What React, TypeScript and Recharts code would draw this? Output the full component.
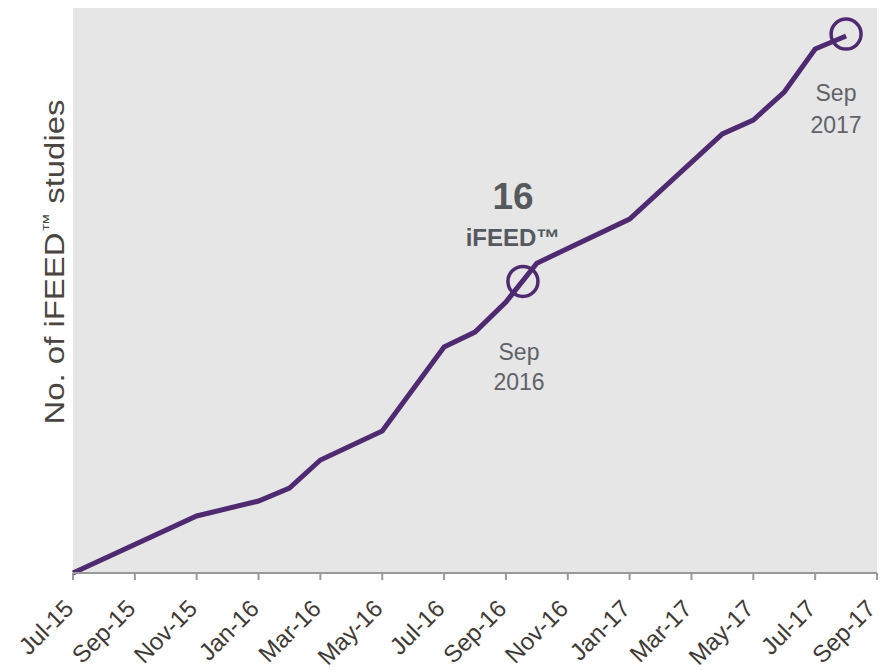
import { LineChart, Line, XAxis, YAxis, CartesianGrid, ReferenceDot } from 'recharts';

// months since Jul-15
const monthIdx = [0, 4, 6, 7, 8, 10, 12, 13, 14, 15, 18, 21, 22, 23, 24, 25];
const studies = [0, 3.13, 3.95, 4.66, 6.2, 7.79, 12.4, 13.22, 14.87, 17.0, 19.42, 24.09, 24.85, 26.39, 28.75, 29.46];

const tickIdx = [0, 2, 4, 6, 8, 10, 12, 14, 16, 18, 20, 22, 24, 26];
const tickLabels = [
  'Jul-15', 'Sep-15', 'Nov-15', 'Jan-16', 'Mar-16', 'May-16', 'Jul-16',
  'Sep-16', 'Nov-16', 'Jan-17', 'Mar-17', 'May-17', 'Jul-17', 'Sep-17',
];

const highlights = [
  { x: 14.55, y: 16 },
  { x: 25.0, y: 29.57 },
];

const data = monthIdx.map((m, i) => ({ m, v: studies[i] }));

const PURPLE = '#4f2a70';
const FONT = '"Liberation Sans", Arial, sans-serif';

const AxisTick = (props: any) => {
  const { x, y, payload } = props;
  const label = tickLabels[tickIdx.indexOf(payload.value)] ?? '';
  const shift = payload.value === 26 ? 0 : 2;
  return (
    <g transform={`translate(${x + shift},${y + 28}) rotate(-45)`}>
      <text x={0} y={0} textAnchor="end" fill="#3f3a36" fontSize={24} fontFamily={FONT}>
        {label}
      </text>
    </g>
  );
};

export default function App() {
  return (
    <div style={{ position: 'absolute', left: 0, top: 0, background: '#fff' }}>
      <LineChart width={881} height={670} data={data} margin={{ top: 8, right: 4, left: 73, bottom: 0 }}>
        <CartesianGrid horizontal={false} vertical={false} fill="#e6e6e6" stroke="none" />
        <XAxis
          dataKey="m"
          type="number"
          domain={[0, 26]}
          ticks={tickIdx}
          interval={0}
          height={97}
          tick={<AxisTick />}
          tickSize={7}
          axisLine={{ stroke: '#9a9a9a', strokeWidth: 2 }}
          tickLine={{ stroke: '#9a9a9a', strokeWidth: 2 }}
        />
        <YAxis hide domain={[0, 31]} type="number" />
        <Line
          type="linear"
          dataKey="v"
          stroke={PURPLE}
          strokeWidth={5}
          dot={false}
          isAnimationActive={false}
        />
        {highlights.map((h, i) => (
          <ReferenceDot key={i} x={h.x} y={h.y} r={15} fill="none" stroke={PURPLE} strokeWidth={3.5} ifOverflow="visible" />
        ))}
      </LineChart>
      <svg width={881} height={670} style={{ position: 'absolute', left: 0, top: 0, pointerEvents: 'none' }}>
        <text
          transform="translate(64,262) rotate(-90)"
          textAnchor="middle"
          fill="#4a4540"
          fontSize={27}
          fontFamily={FONT}
          textLength={325}
          lengthAdjust="spacingAndGlyphs"
        >
          No. of iFEED<tspan fontSize={16} dy={-10}>™</tspan><tspan dy={10}> studies</tspan>
        </text>
        <text x={513} y={209} textAnchor="middle" fill="#55595d" fontSize={37} fontWeight="bold" fontFamily={FONT}>16</text>
        <text x={513} y={246} textAnchor="middle" fill="#55595d" fontSize={24} fontWeight="bold" fontFamily={FONT}>iFEED™</text>
        <text x={519} y={360} textAnchor="middle" fill="#5f6266" fontSize={23} fontFamily={FONT}>Sep</text>
        <text x={519} y={390} textAnchor="middle" fill="#5f6266" fontSize={23} fontFamily={FONT}>2016</text>
        <text x={836} y={101} textAnchor="middle" fill="#5f6266" fontSize={23} fontFamily={FONT}>Sep</text>
        <text x={836} y={133} textAnchor="middle" fill="#5f6266" fontSize={23} fontFamily={FONT}>2017</text>
      </svg>
    </div>
  );
}
